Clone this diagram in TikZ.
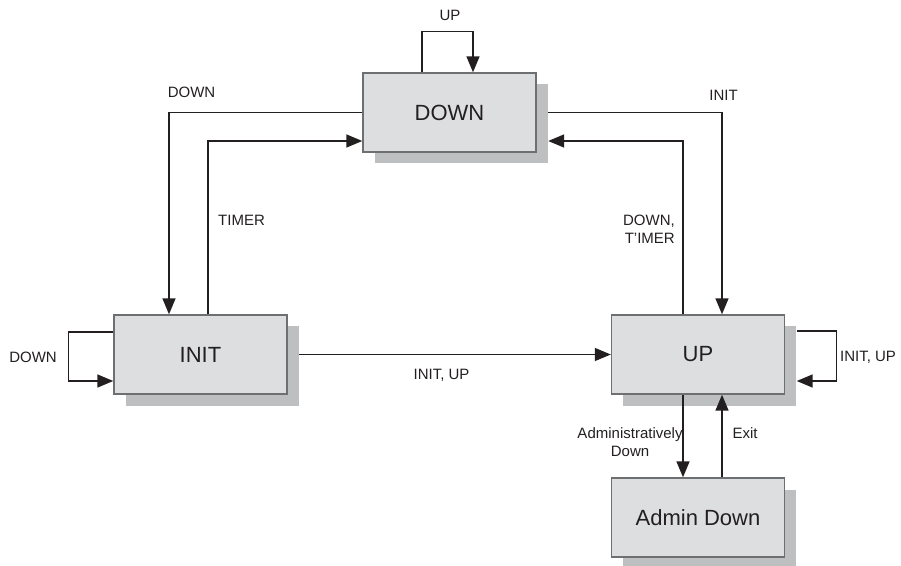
\documentclass[tikz,border=0pt]{standalone}
\usepackage{fontspec}
\setmainfont{Liberation Sans}
\usepackage{xcolor}
\usepackage{tikz}
\usetikzlibrary{arrows.meta,shadows}
\definecolor{boxfill}{RGB}{221,222,224}
\definecolor{shadowgray}{RGB}{190,191,193}
\definecolor{boxline}{RGB}{110,111,113}
\definecolor{inkline}{RGB}{35,31,32}
\tikzset{
  statebox/.style={rectangle, draw=boxline, line width=1.4pt, fill=boxfill, minimum width=173pt, minimum height=79pt, inner sep=0pt, text=inkline, font=\fontsize{22}{26}\selectfont, drop shadow={shadow xshift=11.5pt, shadow yshift=-11.5pt, fill=shadowgray, opacity=1}},
  sarrow/.style={-{Triangle[length=16pt,width=13pt]}, line width=1.5pt, inkline},
  sline/.style={line width=1.5pt, inkline},
  lbl/.style={inner sep=0pt, text=inkline, font=\fontsize{15}{18}\selectfont}
}

\begin{document}
\begin{tikzpicture}[x=1pt,y=1pt]
\useasboundingbox (0,0) rectangle (901,565);
\node[statebox] (down) at (449.5,452.5) {DOWN};
\node[statebox] (init) at (200.5,210.5) {INIT};
\node[statebox] (up) at (698,210.5) {UP};
\node[statebox] (admin) at (698,47.5) {Admin Down};
% labels
\node[lbl] (lupself) at (450,550) {UP};
\node[lbl] (ldowninit) at (191.5,473) {DOWN};
\node[lbl] (ltimer) at (241.5,345) {TIMER};
\node[lbl] (linitup) at (723.5,470) {INIT};
\node[lbl, align=right, anchor=east] (ldowntimer) at (675,336) {DOWN,\\T'IMER};
\node[lbl] (linitself) at (33,208) {DOWN};
\node[lbl] (linitto) at (441.5,190) {INIT, UP};
\node[lbl] (lupselfb) at (868,208) {INIT, UP};
\node[lbl, align=center] (ladmin) at (630,123) {Administratively\\Down};
\node[lbl] (lexit) at (745,132) {Exit};
% transitions
\draw[sarrow] ([xshift=-27.5pt]down.north) -- ++(0,41) -| ([xshift=23.5pt]down.north);
\draw[sarrow] (down.west) -| ([xshift=-31.5pt]init.north);
\draw[sarrow] ([xshift=7.5pt]init.north) |- ([yshift=-28.5pt]down.west);
\draw[sarrow] ([xshift=11.5pt]down.east) -| ([xshift=24pt]up.north);
\draw[sarrow] ([xshift=-15pt]up.north) |- ([xshift=11.5pt,yshift=-28.5pt]down.east);
\draw[sarrow] ([yshift=22.5pt]init.west) -- ++(-45,0) |- ([yshift=-26.5pt]init.west);
\draw[sarrow] ([xshift=11.5pt]init.east) -- (up.west);
\draw[sarrow] ([xshift=11.5pt,yshift=23.5pt]up.east) -- ++(40,0) |- ([xshift=11.5pt,yshift=-26.5pt]up.east);
\draw[sarrow] ([xshift=-15pt]up.south) -- ([xshift=-15pt]admin.north);
\draw[sarrow] ([xshift=24pt]admin.north) -- ([xshift=24pt]up.south);
\end{tikzpicture}
\end{document}
